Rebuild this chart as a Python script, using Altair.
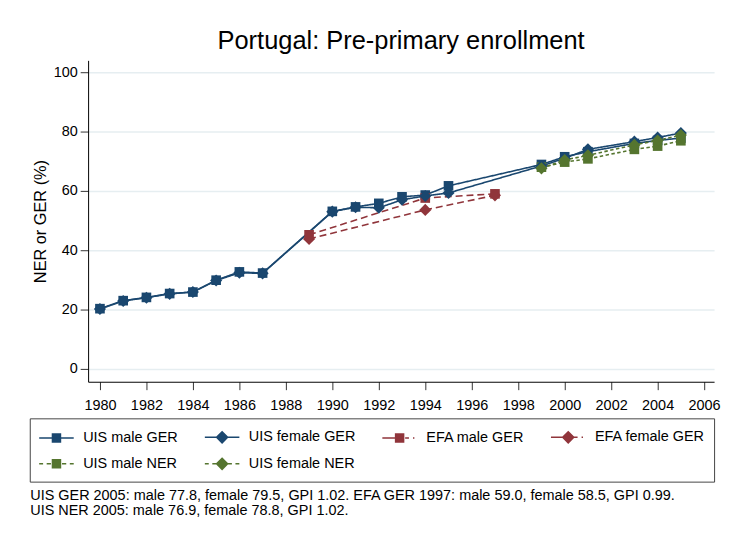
import altair as alt
import pandas as pd

# ---------------- data ----------------
ger_years = [1980, 1981, 1982, 1983, 1984, 1985, 1986, 1987, 1990, 1991,
             1992, 1993, 1994, 1995, 1999, 2000, 2001, 2003, 2004, 2005]
uis_male_ger = [20.3, 23.0, 24.1, 25.4, 25.9, 29.9, 32.7, 32.3, 53.1, 54.6,
                55.8, 58.0, 58.6, 61.7, 68.9, 71.5, 73.2, 76.0, 77.0, 77.8]
uis_female_ger = [20.2, 22.9, 24.0, 25.3, 25.9, 29.8, 32.4, 32.2, 53.0, 54.5,
                  54.3, 57.0, 58.3, 59.3, 68.4, 71.0, 74.0, 76.6, 78.0, 79.5]

efa_years = [1989, 1994, 1997]
efa_male_ger = [45.2, 57.6, 59.0]
efa_female_ger = [43.8, 53.6, 58.5]

ner_years = [1999, 2000, 2001, 2003, 2004, 2005]
uis_male_ner = [68.0, 69.7, 70.8, 74.0, 75.1, 76.9]
uis_female_ner = [67.6, 70.4, 72.0, 75.5, 77.0, 78.8]

series_names = ["UIS male GER", "UIS female GER", "EFA male GER",
                "EFA female GER", "UIS male NER", "UIS female NER"]
series_colors = ["#1a476f", "#1a476f", "#90353b", "#90353b", "#55752f", "#55752f"]
series_dash = [[1, 0], [1, 0], [7, 4], [7, 4], [3.5, 2.5], [3.5, 2.5]]
series_width = [2, 2, 2, 2, 1.6, 1.6]

x_ticks = list(range(1980, 2007, 2))
y_ticks = [0, 20, 40, 60, 80, 100]

title_text = "Portugal: Pre-primary enrollment"
y_title = "NER or GER (%)"
notes = [
    "UIS GER 2005: male 77.8, female 79.5, GPI 1.02. EFA GER 1997: male 59.0, female 58.5, GPI 0.99.",
    "UIS NER 2005: male 76.9, female 78.8, GPI 1.02.",
]

# ---------------- table ----------------
rows = []
for name, yrs, vals in [
    ("UIS male GER", ger_years, uis_male_ger),
    ("UIS female GER", ger_years, uis_female_ger),
    ("EFA male GER", efa_years, efa_male_ger),
    ("EFA female GER", efa_years, efa_female_ger),
    ("UIS male NER", ner_years, uis_male_ner),
    ("UIS female NER", ner_years, uis_female_ner),
]:
    for yr, v in zip(yrs, vals):
        rows.append({"series": name, "year": yr, "value": v})
df = pd.DataFrame(rows)

FONT = "Liberation Sans"

# legend symbols: line + marker, drawn as custom SVG paths (unit = 9px)
sq = "M-0.45,-0.45H0.45V0.45H-0.45Z"
di = "M0,-0.62L0.62,0L0,0.62L-0.62,0Z"
solid = "M-1.94,0H1.94"
efa_line = "M-1.94,0H0M0.62,0H1.05M1.5,0H1.66"
ner_line = "M-1.94,0H-1.5M-1.1,0H-0.62M0.62,0H1.1M1.5,0H1.94"
legend_shapes = [solid + sq, solid + di, efa_line + sq, efa_line + di,
                 ner_line + sq, ner_line + di]

# the channels without a legend use the reversed order of the same mapping,
# so that Vega-Lite does not merge their (disabled) legend into the shown one
rev_names = series_names[::-1]
rev_colors = series_colors[::-1]
rev_dash = series_dash[::-1]
rev_width = series_width[::-1]

x_scale = alt.Scale(domain=[1979.49, 2006.43], nice=False, zero=False)
y_scale = alt.Scale(domain=[-4.333, 104], nice=False, zero=False)

x_enc = alt.X(
    "year:Q", scale=x_scale,
    axis=alt.Axis(
        values=x_ticks, format="d", grid=False, tickSize=8, labelPadding=8,
        labelFont=FONT, labelFontSize=14.6, labelColor="black",
        labelFlush=False, labelOverlap=False,
        domainColor="black", tickColor="#333333",
        title=notes, titleFont=FONT, titleFontSize=14.6,
        titleFontWeight="normal", titleColor="black",
        titleX=-59, titleY=119, titleAlign="left", titleAnchor="start",
        titleBaseline="alphabetic", titleLineHeight=15.5,
    ),
)
y_enc = alt.Y(
    "value:Q", scale=y_scale,
    axis=alt.Axis(
        values=y_ticks, grid=True, gridColor="#E6EEF1", gridWidth=1.5,
        tickSize=8, labelPadding=3, labelFont=FONT, labelFontSize=14.6,
        labelColor="black", domainColor="black", tickColor="#333333",
        title=y_title, titleFont=FONT, titleFontSize=16.5,
        titleFontWeight="normal", titleColor="black",
        titleX=-43.5, titleY=162.5, titleAngle=270, titleAlign="center",
        titleBaseline="alphabetic",
    ),
)

color_scale = alt.Scale(domain=rev_names, range=rev_colors)

lines = alt.Chart(df).mark_line().encode(
    x=x_enc, y=y_enc,
    color=alt.Color("series:N", scale=color_scale, legend=None),
    strokeDash=alt.StrokeDash("series:N",
                              scale=alt.Scale(domain=rev_names, range=rev_dash),
                              legend=None),
    strokeWidth=alt.StrokeWidth("series:N",
                                scale=alt.Scale(domain=rev_names, range=rev_width),
                                legend=None),
    order=alt.Order("year:Q"),
)

squares = alt.Chart(df).transform_filter(
    alt.FieldOneOfPredicate(field="series", oneOf=[series_names[0], series_names[2], series_names[4]])
).mark_point(filled=True, shape="square", size=95, opacity=1).encode(
    x="year:Q", y="value:Q",
    color=alt.Color("series:N", scale=color_scale, legend=None),
)

diamonds = alt.Chart(df).transform_filter(
    alt.FieldOneOfPredicate(field="series", oneOf=[series_names[1], series_names[3], series_names[5]])
).mark_point(filled=True, shape="diamond", size=150, opacity=1).encode(
    x="year:Q", y="value:Q",
    color=alt.Color("series:N", scale=color_scale, legend=None),
)

leg = alt.Legend(
    title=None, orient="none", legendX=-59, legendY=362, columns=4,
    direction="horizontal", values=series_names,
    padding=9, strokeColor="#444444", cornerRadius=0,
    labelFont=FONT, labelFontSize=14.6, labelColor="black", labelOffset=17,
    symbolSize=324, symbolOffset=8, symbolStrokeWidth=1.5, symbolOpacity=1,
    rowPadding=8, columnPadding=23.5, gridAlign="each", labelLimit=300,
)

# invisible layer (size 0) that only carries the combined legend
legend_layer = alt.Chart(df).mark_point(
    filled=True, size=0, opacity=1
).encode(
    x="year:Q", y="value:Q",
    fill=alt.Fill("series:N", scale=alt.Scale(domain=series_names, range=series_colors), legend=leg),
    stroke=alt.Stroke("series:N", scale=alt.Scale(domain=series_names, range=series_colors), legend=leg),
    shape=alt.Shape("series:N", scale=alt.Scale(domain=series_names, range=legend_shapes), legend=leg),
)

chart = alt.layer(lines, squares, diamonds, legend_layer).properties(
    width=633, height=325,
    title=alt.TitleParams(
        text=title_text, font=FONT, fontSize=25.7, fontWeight="normal",
        color="black", anchor="middle", frame="group", offset=5.5,
    ),
    autosize=alt.AutoSizeParams(type="none"),
    padding={"left": 81, "top": 50, "right": 8, "bottom": 150},
    background="white",
).configure_view(stroke=None)

chart.save("out.html", embed_options={"renderer": "svg", "actions": False})
